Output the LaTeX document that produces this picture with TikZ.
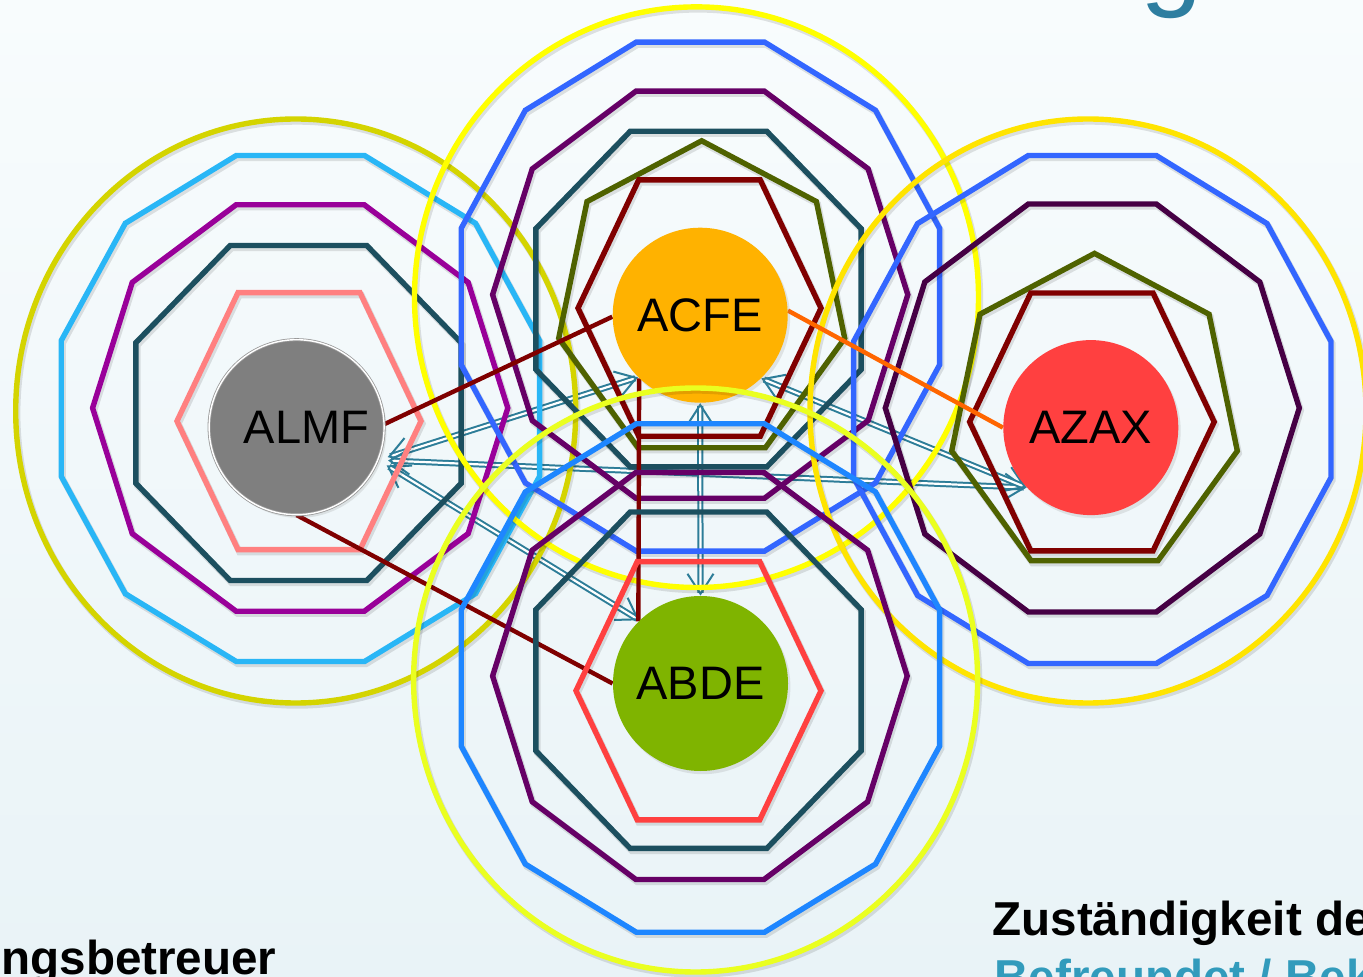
\documentclass[tikz,border=0pt]{standalone}
\usepackage{fontspec}
\setmainfont{Liberation Sans}
\usetikzlibrary{arrows.meta,shadows}
\definecolor{almfgray}{RGB}{127,127,127}
\definecolor{acfeor}{RGB}{255,178,0}
\definecolor{azaxred}{RGB}{255,64,64}
\definecolor{abdegreen}{RGB}{127,180,0}
\definecolor{salmonA}{RGB}{255,128,128}
\definecolor{dteal}{RGB}{28,79,95}
\definecolor{violetA}{RGB}{153,0,153}
\definecolor{skyA}{RGB}{41,182,246}
\definecolor{oliveY}{RGB}{212,212,0}
\definecolor{dred}{RGB}{128,0,0}
\definecolor{olgreen}{RGB}{79,98,0}
\definecolor{purpB}{RGB}{102,0,102}
\definecolor{blueB}{RGB}{51,102,255}
\definecolor{yelB}{RGB}{255,255,0}
\definecolor{purpC}{RGB}{70,0,68}
\definecolor{goldC}{RGB}{255,228,0}
\definecolor{redD}{RGB}{255,64,64}
\definecolor{blueD}{RGB}{30,134,255}
\definecolor{limeD}{RGB}{234,255,32}
\definecolor{conred}{RGB}{127,0,0}
\definecolor{conor}{RGB}{255,102,0}
\definecolor{arrteal}{RGB}{45,125,152}
\definecolor{titleteal}{RGB}{46,126,160}
\definecolor{subteal}{RGB}{50,155,188}
\definecolor{bgtop}{RGB}{248,252,253}
\definecolor{bgbot}{RGB}{233,243,247}
\pgfdeclarelayer{bgl}
\pgfdeclarelayer{arrl}
\pgfdeclarelayer{polyl}
\pgfdeclarelayer{connl}
\pgfdeclarelayer{abdel}
\pgfdeclarelayer{frontl}
\pgfsetlayers{bgl,arrl,polyl,connl,main,abdel,frontl}
% polygon paths: centre x, centre y, half width, half height (pixel units, y down)
\newcommand\hexP[4]{({#1-0.5*#3},{#2-#4}) -- ({#1+0.5*#3},{#2-#4}) -- ({#1+#3},{#2}) -- ({#1+0.5*#3},{#2+#4}) -- ({#1-0.5*#3},{#2+#4}) -- ({#1-#3},{#2}) -- cycle}
\newcommand\octP[4]{({#1-0.42*#3},{#2-#4}) -- ({#1+0.42*#3},{#2-#4}) -- ({#1+#3},{#2-0.42*#4}) -- ({#1+#3},{#2+0.42*#4}) -- ({#1+0.42*#3},{#2+#4}) -- ({#1-0.42*#3},{#2+#4}) -- ({#1-#3},{#2+0.42*#4}) -- ({#1-#3},{#2-0.42*#4}) -- cycle}
\newcommand\decP[4]{({#1-0.309*#3},{#2-#4}) -- ({#1+0.309*#3},{#2-#4}) -- ({#1+0.809*#3},{#2-0.618*#4}) -- ({#1+#3},{#2}) -- ({#1+0.809*#3},{#2+0.618*#4}) -- ({#1+0.309*#3},{#2+#4}) -- ({#1-0.309*#3},{#2+#4}) -- ({#1-0.809*#3},{#2+0.618*#4}) -- ({#1-#3},{#2}) -- ({#1-0.809*#3},{#2-0.618*#4}) -- cycle}
\newcommand\dodP[4]{({#1-0.268*#3},{#2-#4}) -- ({#1+0.268*#3},{#2-#4}) -- ({#1+0.732*#3},{#2-0.732*#4}) -- ({#1+#3},{#2-0.268*#4}) -- ({#1+#3},{#2+0.268*#4}) -- ({#1+0.732*#3},{#2+0.732*#4}) -- ({#1+0.268*#3},{#2+#4}) -- ({#1-0.268*#3},{#2+#4}) -- ({#1-0.732*#3},{#2+0.732*#4}) -- ({#1-#3},{#2+0.268*#4}) -- ({#1-#3},{#2-0.268*#4}) -- ({#1-0.732*#3},{#2-0.732*#4}) -- cycle}
\newcommand\hepP[4]{({#1},{#2-#4}) -- ({#1+0.802*#3},{#2-0.604*#4}) -- ({#1+#3},{#2+0.286*#4}) -- ({#1+0.445*#3},{#2+#4}) -- ({#1-0.445*#3},{#2+#4}) -- ({#1-#3},{#2+0.286*#4}) -- ({#1-0.802*#3},{#2-0.604*#4}) -- cycle}
\newcommand\ringP[4]{(#1,#2) ellipse [x radius=#3, y radius=#4]}
\newcommand\drawoutl[2]{\draw[shad] #2; \draw[outl,draw=#1] #2;}
\begin{document}
\begin{tikzpicture}[x=0.5pt,y=-0.5pt,
  outl/.style={line width=2.7pt, line join=miter},
  shad/.style={draw=black, draw opacity=0.11, line width=3.2pt, shift={(1.5,2.5)}},
  circnode/.style={circle, inner sep=0pt, minimum size=87.5pt, text=black,
    font=\fontsize{23.5}{28}\selectfont,
    drop shadow={opacity=0.18, shadow xshift=1.2pt, shadow yshift=-1.6pt}},
  conline/.style={line width=2.2pt},
  arrst/.style={draw=arrteal, line width=1pt, double=white, double distance=1.1pt,
    arrows={Straight Barb[length=10pt,width=13pt]-Straight Barb[length=10pt,width=13pt]}},
  boldtxt/.style={font=\bfseries\fontsize{23.8}{28}\selectfont, inner sep=0pt}
]
\useasboundingbox (0,0) rectangle (1363,977);

% nodes
\node[circnode, fill=almfgray, draw=gray!80, double=white, double distance=0.7pt, line width=0.4pt] (almf) at (296.6,427.2) {\hspace*{10pt}ALMF};
\node[circnode, fill=acfeor] (acfe) at (700.2,315.2) {ACFE};
\node[circnode, fill=azaxred] (azax) at (1090.8,427.6) {AZAX};
\begin{pgfonlayer}{frontl}
\node[circnode, fill=abdegreen] (abde) at (700.5,683.5) {ABDE};
\end{pgfonlayer}

\node[boldtxt, anchor=base west] (zust) at (992,935) {Zuständigkeit de};
\node[boldtxt, anchor=base west, text=subteal] (befr) at (994,993) {Befreundet / Bek};
\node[boldtxt, anchor=base west] (betr) at (1,974) {ngsbetreuer};
\node[anchor=base west, inner sep=0pt, text=titleteal, font=\fontsize{56}{60}\selectfont] (titleg) at (1140,-4) {g};

\begin{pgfonlayer}{bgl}
\shade[top color=bgtop, bottom color=bgbot] (0,0) rectangle (1363,977);
\end{pgfonlayer}

% teal double arrows
\begin{pgfonlayer}{arrl}
\draw[arrst, shorten <=5pt] (almf.-22) -- (acfe.225);
\draw[arrst, shorten <=5pt] (almf.-22) -- (azax.223);
\draw[arrst, shorten <=5pt] (almf.-22) -- (abde.134);
\draw[arrst] (acfe.-46) -- (azax.223);
\draw[arrst] (acfe.south) -- (abde.north);
\end{pgfonlayer}

% polygon rings
\begin{pgfonlayer}{polyl}
% ALMF
\drawoutl{oliveY}{\ringP{295.7}{411}{280}{292}}
\drawoutl{skyA}{\dodP{300.4}{408.5}{239.2}{253}}
\drawoutl{violetA}{\decP{300.2}{408}{207.6}{203.2}}
\drawoutl{dteal}{\octP{298.5}{413}{162.6}{167.5}}
\drawoutl{salmonA}{\hexP{299}{421.1}{122}{128.5}}
% ACFE
\drawoutl{yelB}{\ringP{696.5}{297.2}{282}{290.3}}
\drawoutl{blueB}{\dodP{700.4}{296.6}{239.2}{254.5}}
\drawoutl{purpB}{\decP{700.2}{294.7}{207.6}{203.6}}
\drawoutl{dteal}{\octP{698.5}{299.1}{162.6}{167.8}}
\drawoutl{olgreen}{\hepP{701.7}{294.3}{143}{153.5}}
\drawoutl{dred}{\hexP{699.5}{308.1}{121.5}{128.2}}
% AZAX
\drawoutl{goldC}{\ringP{1088}{411}{278}{292}}
\drawoutl{blueB}{\dodP{1092.3}{409.5}{238.7}{254}}
\drawoutl{purpC}{\decP{1092.3}{408}{207}{204}}
\drawoutl{olgreen}{\hepP{1094.5}{407}{142.8}{153.6}}
\drawoutl{dred}{\hexP{1091.9}{421.9}{122.3}{128.9}}
\end{pgfonlayer}

% ABDE rings
\begin{pgfonlayer}{abdel}
\drawoutl{limeD}{\ringP{695.6}{680}{282}{292}}
\drawoutl{blueD}{\dodP{700.4}{678}{239.2}{254.2}}
\drawoutl{purpB}{\decP{699.9}{676}{207.3}{203.5}}
\drawoutl{dteal}{\octP{698.5}{680.2}{162.6}{168.2}}
\drawoutl{redD}{\hexP{698.5}{690.7}{122.5}{129.1}}
\end{pgfonlayer}

% solid connectors
\begin{pgfonlayer}{connl}
\draw[conline, draw=conred] (almf.2) -- (acfe.181);
\draw[conline, draw=conred] (almf.south) -- (abde.west);
\draw[conline, draw=conred] (acfe.226) -- (abde.135);
\draw[conline, draw=conor] (acfe.3) -- (azax.west);
\end{pgfonlayer}
\end{tikzpicture}
\end{document}
